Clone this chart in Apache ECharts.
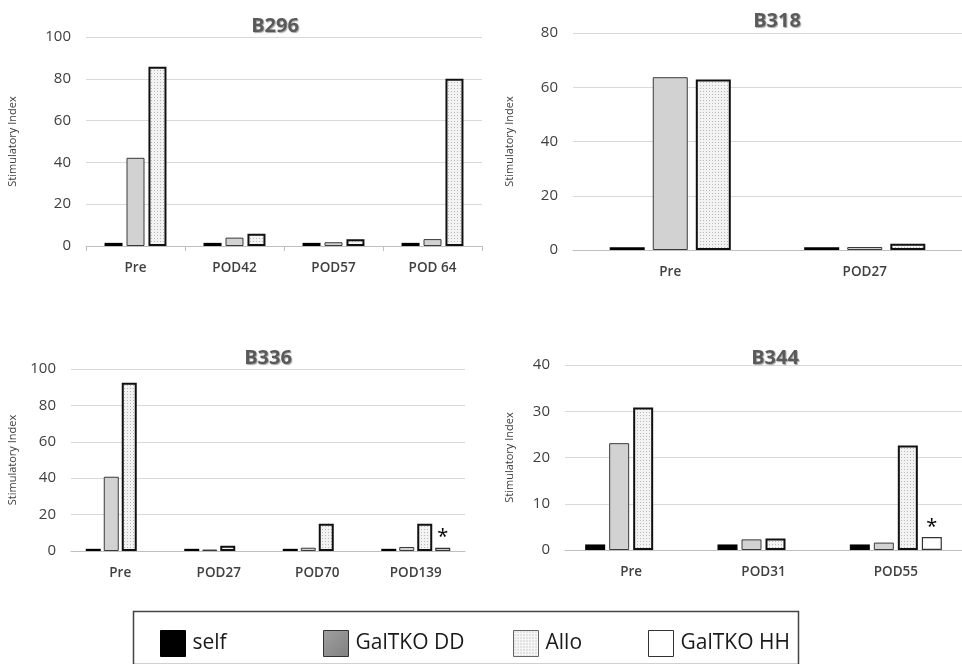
<!DOCTYPE html>
<html>
<head>
<meta charset="utf-8">
<script src="https://cdn.jsdelivr.net/npm/echarts@6/dist/echarts.min.js"></script>
<style>
html,body{margin:0;padding:0;background:#fff;}
#chart{width:962px;height:664px;}
</style>
</head>
<body>
<div id="chart"></div>
<script>
// ---- Data ----
const seriesNames = ['self', 'GalTKO DD', 'Allo', 'GalTKO HH'];

const titles = ['B296', 'B318', 'B336', 'B344'];

const cats296 = ['Pre', 'POD42', 'POD57', 'POD 64'];
const self296 = [1.5, 1.5, 1.5, 1.5];
const dd296 = [42.2, 4.0, 1.8, 3.3];
const allo296 = [85.8, 5.9, 3.2, 80];

const cats318 = ['Pre', 'POD27'];
const self318 = [1.0, 1.0];
const dd318 = [63.7, 1.1];
const allo318 = [62.9, 2.3];

const cats336 = ['Pre', 'POD27', 'POD70', 'POD139'];
const self336 = [1.2, 1.2, 1.2, 1.2];
const dd336 = [40.8, 0.8, 1.8, 2.2];
const allo336 = [92.5, 2.9, 15, 15];
const hh336 = [null, null, null, 1.8];

const cats344 = ['Pre', 'POD31', 'POD55'];
const self344 = [1.2, 1.2, 1.2];
const dd344 = [23.1, 2.3, 1.6];
const allo344 = [30.8, 2.5, 22.6];
const hh344 = [null, null, 2.8];

const yMax = [100, 80, 100, 40];
const yInterval = [20, 20, 20, 10];

// ---- Styles ----
function dotPattern(bg, dot) {
  const c = document.createElement('canvas');
  c.width = 3; c.height = 3;
  const ctx = c.getContext('2d');
  ctx.fillStyle = bg; ctx.fillRect(0, 0, 3, 3);
  ctx.fillStyle = dot; ctx.fillRect(1, 1, 1, 1);
  return { image: c, repeat: 'repeat' };
}
const alloFill = dotPattern('#f3f3f3', '#b8b8b8');

const styles = {
  'self': { color: '#000000', borderColor: '#000000', borderWidth: 0 },
  'GalTKO DD': { color: '#d2d2d2', borderColor: '#3a3a3a', borderWidth: 1 },
  'Allo': { color: alloFill, borderColor: '#111111', borderWidth: 2 },
  'GalTKO HH': { color: '#ffffff', borderColor: '#333333', borderWidth: 1.2 }
};

const FONT = 'Open Sans, DejaVu Sans, sans-serif';
const axisColor = '#404040';

const grids = [
  { left: 86, right: 480, top: 37, bottom: 418 },
  { left: 573, right: -5, top: 33, bottom: 414 },
  { left: 71, right: 497, top: 369, bottom: 113 },
  { left: 565, right: -3, top: 365, bottom: 114 }
];
const nameGaps = [68, 58, 53, 50];
const barWidths = [18, 35, 15, 20];
const barGaps = ['22%', '23%', '20%', '20%'];
const titlePos = [[270, 11], [772, 6], [263, 343], [770, 343]];
const showTicks = [true, false, false, false];

const catList = [cats296, cats318, cats336, cats344];
const dataList = [
  [self296, dd296, allo296],
  [self318, dd318, allo318],
  [self336, dd336, allo336, hh336],
  [self344, dd344, allo344, hh344]
];

const xAxes = [], yAxes = [], series = [], titleOpts = [];
for (let g = 0; g < 4; g++) {
  xAxes.push({
    type: 'category', gridIndex: g, data: catList[g],
    axisLine: { lineStyle: { color: '#bfbfbf', width: 1 } },
    axisTick: { show: showTicks[g], length: 5, lineStyle: { color: '#bfbfbf' } },
    axisLabel: { color: axisColor, fontFamily: FONT, fontSize: 13.5, fontWeight: 600, margin: 15 }
  });
  yAxes.push({
    type: 'value', gridIndex: g, min: 0, max: yMax[g], interval: yInterval[g],
    name: 'Stimulatory Index', nameLocation: 'middle', nameGap: nameGaps[g],
    nameTextStyle: { color: axisColor, fontFamily: FONT, fontSize: 11 },
    axisLine: { show: false }, axisTick: { show: false },
    axisLabel: { color: axisColor, fontFamily: FONT, fontSize: 15, margin: 15 },
    splitLine: { lineStyle: { color: '#d9d9d9', width: 1 } }
  });
  titleOpts.push({
    text: titles[g], left: titlePos[g][0], top: titlePos[g][1], textAlign: 'center',
    textStyle: {
      fontFamily: FONT, fontSize: 20, fontWeight: 'bold', color: '#5a5a5a',
      textShadowColor: 'rgba(0,0,0,0.35)', textShadowBlur: 1, textShadowOffsetX: 1, textShadowOffsetY: 1
    }
  });
  dataList[g].forEach((arr, si) => {
    const name = seriesNames[si];
    const s = {
      type: 'bar', name: name, xAxisIndex: g, yAxisIndex: g, data: arr,
      barWidth: barWidths[g], barGap: barGaps[g],
      itemStyle: styles[name],
      emphasis: { disabled: true },
      animation: false
    };
    if (name === 'GalTKO HH') {
      s.label = {
        show: true, position: 'top', formatter: '*', distance: 0,
        color: '#000', fontFamily: FONT, fontSize: 20
      };
    }
    series.push(s);
  });
}

const legendItemStyles = {
  'self': { color: '#000000', borderColor: '#000000', borderWidth: 1 },
  'GalTKO DD': {
    color: { type: 'linear', x: 0, y: 0, x2: 1, y2: 1,
      colorStops: [{ offset: 0, color: '#a0a0a0' }, { offset: 1, color: '#808080' }] },
    borderColor: '#333333', borderWidth: 1
  },
  'Allo': { color: dotPattern('#f6f6f6', '#a8a8a8'), borderColor: '#666666', borderWidth: 1 },
  'GalTKO HH': { color: '#ffffff', borderColor: '#333333', borderWidth: 1 }
};
const legendLefts = [155, 318, 508, 643];
const legends = seriesNames.map((n, i) => ({
  left: legendLefts[i], top: 625, orient: 'horizontal',
  itemWidth: 25, itemHeight: 26, icon: 'rect', selectedMode: false,
  data: [{ name: n, itemStyle: legendItemStyles[n] }],
  textStyle: { fontFamily: FONT, fontSize: 21, color: '#1a1a1a', padding: [0, 0, 0, 2] }
}));

const chart = echarts.init(document.getElementById('chart'), null, { renderer: 'canvas' });
chart.setOption({
  backgroundColor: '#ffffff',
  animation: false,
  title: titleOpts,
  grid: grids,
  xAxis: xAxes,
  yAxis: yAxes,
  legend: legends,
  series: series,
  graphic: [{
    type: 'rect', left: 131, top: 609, silent: true,
    shape: { width: 665, height: 53 },
    style: { fill: 'none', stroke: '#444444', lineWidth: 1.5 }
  }]
});
</script>
</body>
</html>
